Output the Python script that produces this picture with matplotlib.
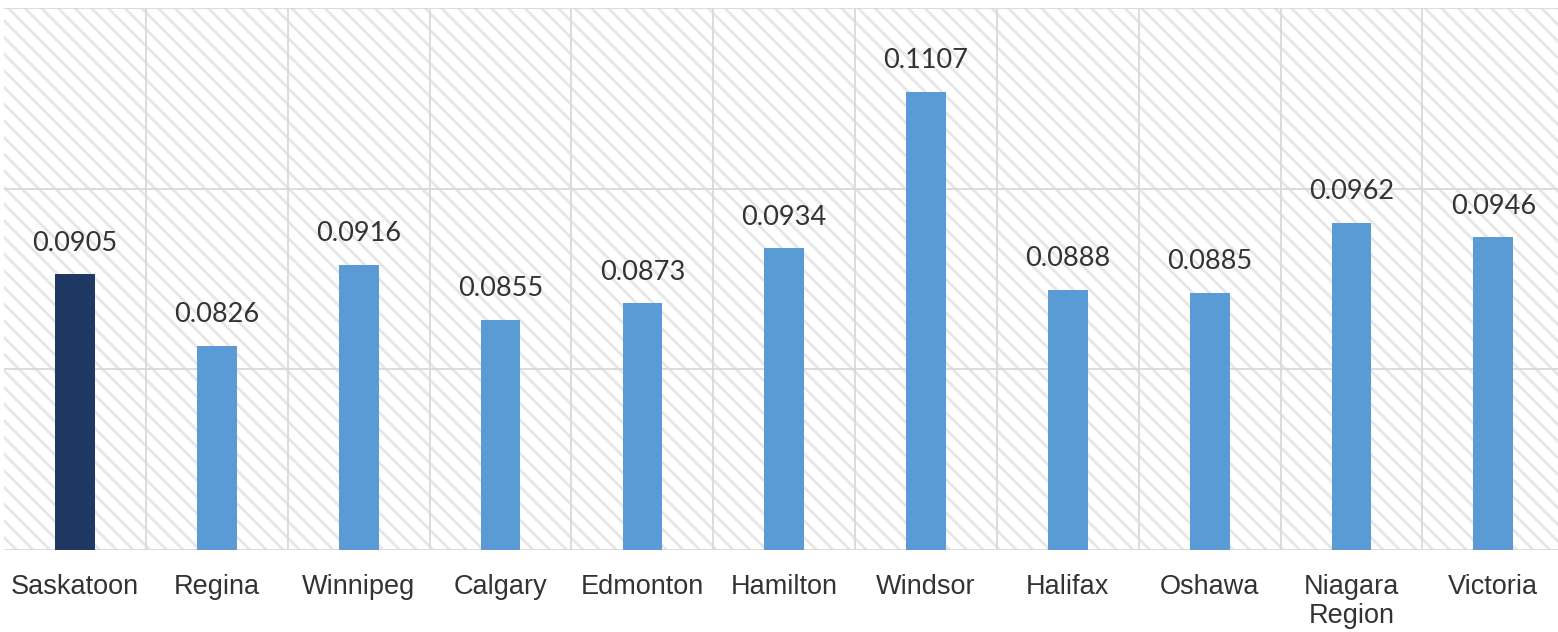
import matplotlib.pyplot as plt
from matplotlib.patches import Rectangle

cities = ['Saskatoon', 'Regina', 'Winnipeg', 'Calgary', 'Edmonton', 'Hamilton',
          'Windsor', 'Halifax', 'Oshawa', 'Niagara\nRegion', 'Victoria']
values = [0.0905, 0.0826, 0.0916, 0.0855, 0.0873, 0.0934,
          0.1107, 0.0888, 0.0885, 0.0962, 0.0946]
highlight = 'Saskatoon'

dark = '#1f3864'
light = '#5b9bd5'
grid = '#d9d9d9'
text_col = '#333333'

plt.rcParams['hatch.linewidth'] = 2.0

fig = plt.figure(figsize=(15.58, 6.32), dpi=100)
# axes spans a bit past the right edge, like the original screenshot crop
ax = fig.add_axes([4.2 / 1558, 82 / 632, 1560 / 1558, 542 / 632])

# hatched background
ax.add_patch(Rectangle((0, 0), 1, 1, transform=ax.transAxes, facecolor='white',
                       edgecolor='#e6e6e6', linewidth=0, hatch='\\\\', zorder=0))

colors = [dark if c == highlight else light for c in cities]
ax.bar(range(len(cities)), values, width=0.28, color=colors, zorder=3)

for i, v in enumerate(values):
    ax.annotate(f'{v:.4f}', (i, v), xytext=(0, 17), textcoords='offset points',
                ha='center', va='baseline', fontsize=19.5, family='Lato',
                color=text_col, zorder=4)

ax.set_xlim(-0.5, len(cities) - 0.5)
ax.set_ylim(0.06, 0.12)

for y in [0.06, 0.08, 0.10, 0.12]:
    ax.axhline(y, color=grid, lw=1.3, zorder=1)
for x in range(len(cities)):
    ax.axvline(x + 0.5, color=grid, lw=1.3, zorder=1)

ax.set_xticks(range(len(cities)))
ax.set_xticklabels(cities, fontsize=19.5, family='Liberation Sans',
                   color=text_col, linespacing=1.15)
ax.tick_params(axis='x', length=0, pad=17)
ax.set_yticks([])
for s in ax.spines.values():
    s.set_visible(False)

fig.savefig('out.png', dpi=100)
